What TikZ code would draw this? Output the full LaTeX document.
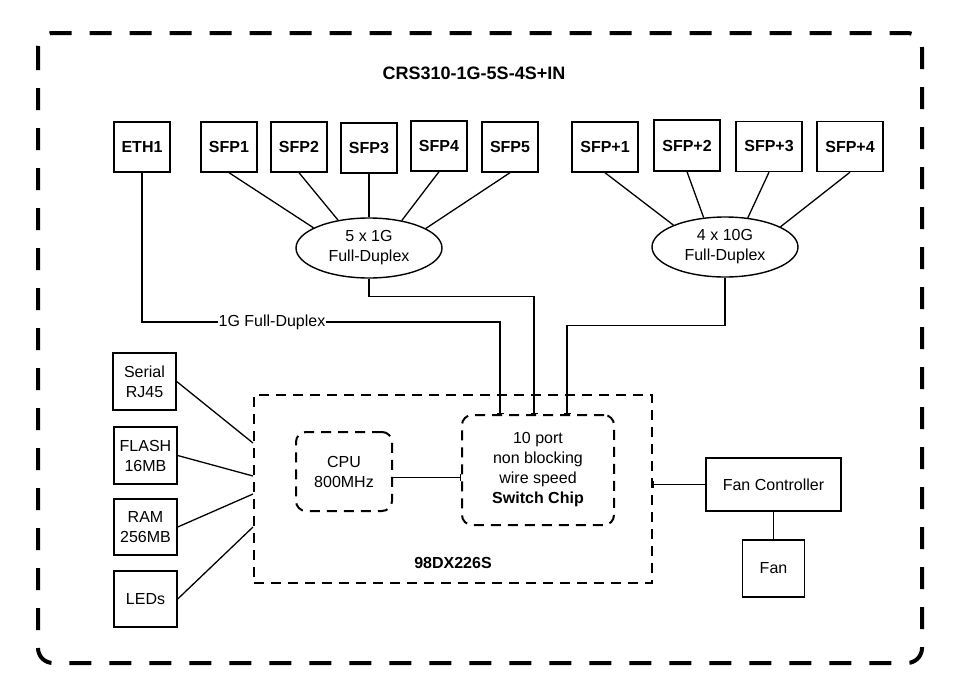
\documentclass[tikz,border=0pt]{standalone}
\usepackage{fontspec}
\setmainfont{Liberation Sans}
\usetikzlibrary{shapes.geometric,arrows.meta}
\begin{document}
\begin{tikzpicture}[x=1pt,y=-1pt,
  txt/.style={font=\fontsize{16}{20}\selectfont},
  box/.style={draw,line width=1.4pt,inner sep=0pt,align=center,txt},
  bbox/.style={box,font=\fontsize{16}{20}\selectfont\bfseries},
  ell/.style={draw,ellipse,line width=1.4pt,inner sep=0pt,align=center,txt,minimum width=146pt,minimum height=60pt},
  outer/.style={draw,line width=4pt,dash pattern=on 22pt off 18pt,rounded corners=15pt},
  chipbox/.style={draw,line width=2pt,dash pattern=on 10pt off 7pt,inner sep=0pt},
  link/.style={line width=1.3pt},
  tick/.style={link,-{Bar[width=7pt,line width=1.3pt]}}
]
\useasboundingbox (0,0) rectangle (960,699);
\draw[outer] (38,33) rectangle (922,663);
\node[font=\fontsize{18}{20}\selectfont\bfseries] (title) at (474,73) {CRS310-1G-5S-4S+IN};

% top ports
\node[bbox,minimum width=56pt,minimum height=50pt] (eth) at (142,147) {ETH1};
\node[bbox,minimum width=56pt,minimum height=50pt] (s1) at (229,147) {SFP1};
\node[bbox,minimum width=56pt,minimum height=50pt] (s2) at (299,147) {SFP2};
\node[bbox,minimum width=56pt,minimum height=50pt] (s3) at (369,148) {SFP3};
\node[bbox,minimum width=56pt,minimum height=50pt] (s4) at (439,146) {SFP4};
\node[bbox,minimum width=56pt,minimum height=50pt] (s5) at (510,147) {SFP5};
\node[bbox,minimum width=66pt,minimum height=50pt] (p1) at (605,147) {SFP+1};
\node[bbox,minimum width=66pt,minimum height=51pt] (p2) at (687,145.5) {SFP+2};
\node[bbox,minimum width=66pt,minimum height=50pt] (p3) at (769,146.5) {SFP+3};
\node[bbox,minimum width=66pt,minimum height=50pt] (p4) at (850,146.5) {SFP+4};

% aggregators
\node[ell] (g1) at (369,248) {5 x 1G\\Full-Duplex};
\node[ell] (g2) at (725,247) {4 x 10G\\Full-Duplex};

\draw[link] (s1.south) -- (g1.160);
\draw[link] (s2.south) -- (g1.138);
\draw[link] (s3.south) -- (g1.90);
\draw[link] (s4.south) -- (g1.40);
\draw[link] (s5.south) -- (g1.19);
\draw[link] (p1.south) -- (g2.157);
\draw[link] (p2.south) -- (g2.126);
\draw[link] (p3.south) -- (g2.52);
\draw[link] (p4.south) -- (g2.20);

% chip
\node[chipbox,minimum width=398pt,minimum height=188pt] (chip) at (453,489) {};
\node[font=\fontsize{16}{20}\selectfont\bfseries] (chiplbl) at (453,563) {98DX226S};
\node[chipbox,rounded corners=10pt,minimum width=96pt,minimum height=79pt,align=center,txt] (cpu) at (344,471.5) {CPU\\800MHz};
\node[chipbox,rounded corners=10pt,minimum width=152pt,minimum height=110pt,align=center,txt] (sw) at (538,470) {10 port\\non blocking\\wire speed\\\textbf{Switch Chip}};

% ETH1 link
\node[txt,inner sep=0pt] (lbl) at (272,322) {1G Full-Duplex};
\draw[link] (eth.south) |- (lbl.west);
\draw[tick] (lbl.east) -| ([xshift=-38pt]sw.north);
\draw[tick] (g1.south) -- ++(0,18) -| ([xshift=-4pt]sw.north);
\draw[tick] (g2.south) -- ++(0,48) -| ([xshift=29pt]sw.north);

\draw[tick] ([yshift=-6pt]cpu.east) -- ([yshift=-6pt]cpu.east -| sw.west);

% left peripherals
\node[box,minimum width=63pt,minimum height=57pt] (ser) at (144.5,381.5) {Serial\\RJ45};
\node[box,minimum width=63pt,minimum height=57pt] (fl) at (145.5,455.5) {FLASH\\16MB};
\node[box,minimum width=63pt,minimum height=56pt] (ram) at (145.5,527) {RAM\\256MB};
\node[box,minimum width=63pt,minimum height=56pt] (led) at (145.5,599) {LEDs};
\draw[link] (ser.east) -- ([yshift=46pt]chip.west);
\draw[link] (fl.east) -- ([yshift=13pt]chip.west);
\draw[link] (ram.east) -- ([yshift=-5pt]chip.west);
\draw[link] (led.east) -- ([yshift=-38pt]chip.west);

% fan
\node[box,minimum width=135pt,minimum height=53pt] (fc) at (773.5,484.5) {Fan Controller};
\node[box,minimum width=62pt,minimum height=57pt] (fan) at (773.5,568.5) {Fan};
\draw[tick] (fc.west) -- (fc.west -| chip.east);
\draw[link] (fc.south) -- (fan.north);
\end{tikzpicture}
\end{document}
